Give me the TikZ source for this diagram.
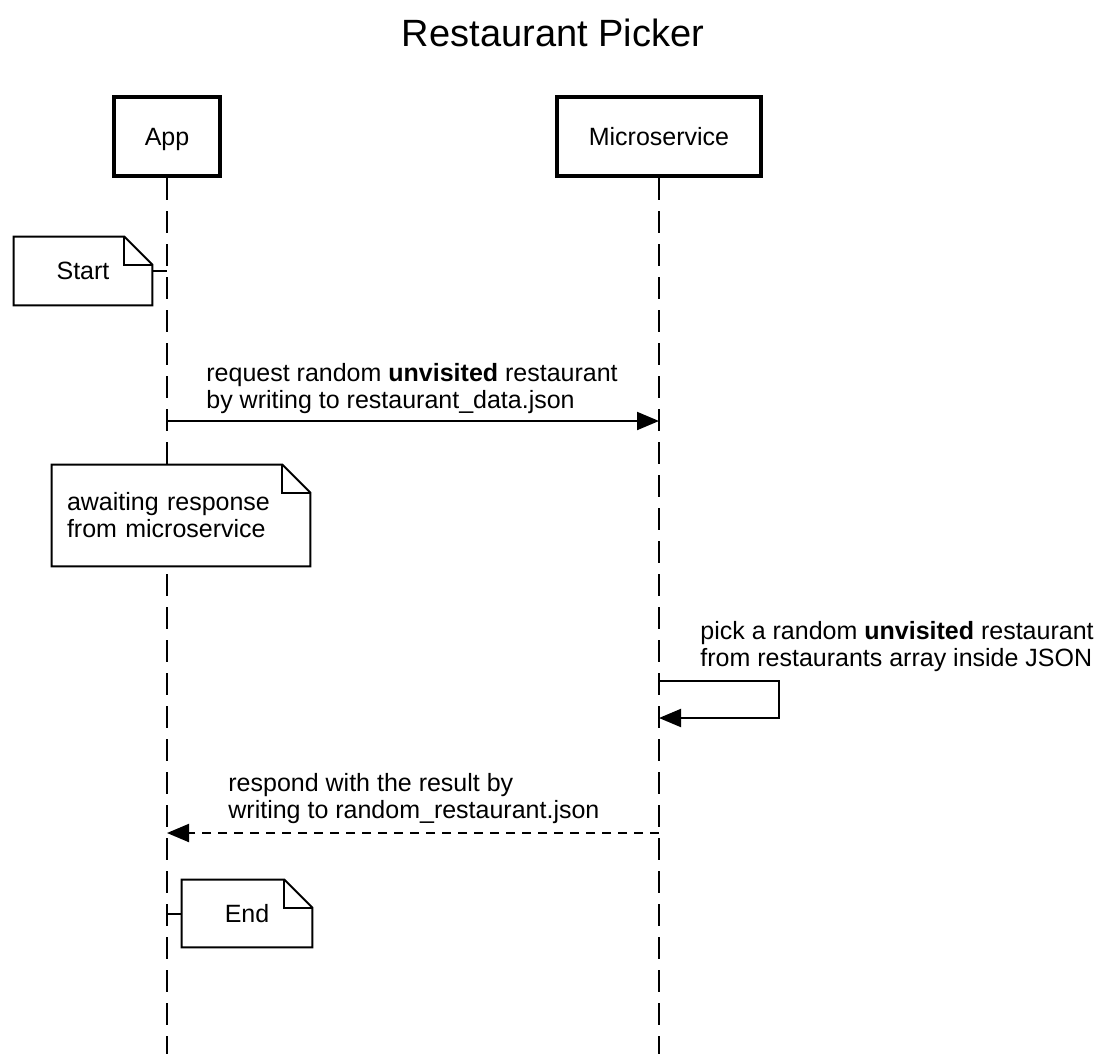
\documentclass[tikz,border=0pt]{standalone}
\usepackage{fontspec}
\setmainfont{Liberation Sans}
\usetikzlibrary{arrows.meta,positioning}

% outline of a note with a folded corner, drawn on an existing node
\newcommand{\foldnote}[1]{%
  \draw[line width=1pt] (#1.south west) -- (#1.north west) -- ([xshift=-14pt]#1.north east)
    -- ([yshift=-14pt]#1.north east) -- (#1.south east) -- cycle;
  \draw[line width=1pt] ([xshift=-14pt]#1.north east) |- ([yshift=-14pt]#1.north east);}

\begin{document}
\begin{tikzpicture}[x=0.5pt, y=-0.5pt, font=\fontsize{12.5}{13.5}\selectfont,
    >={Triangle[length=11pt,width=9pt]}]
  \useasboundingbox (0,0) rectangle (1107,1054);
  \tikzstyle{actor}=[draw, line width=2pt, minimum height=39.5pt, inner sep=0pt, text depth=0pt]
  \tikzstyle{life}=[line width=1pt, dash pattern=on 11pt off 5.5pt]
  \tikzstyle{note}=[fill=white, inner sep=0pt]
  \tikzstyle{msg}=[line width=1pt]
  \tikzstyle{lbl}=[anchor=south west, align=left, inner sep=0pt]

  % title
  \node[font=\fontsize{19}{22}\selectfont] (title) at (553,33) {Restaurant Picker};

  % participants and lifelines
  \node[actor, minimum width=53pt] (app) at (167,136.5) {App};
  \node[actor, minimum width=102pt] (ms) at (659,136.5) {Microservice};
  \coordinate (appEnd) at (167,1054);
  \coordinate (msEnd) at (659,1054);
  \draw[life] (app.south) -- (appEnd);
  \draw[life] (ms.south) -- (msEnd);

  % start
  \node[note, minimum width=69pt, minimum height=34pt] (start) at (83,271) {Start};
  \foldnote{start}
  \draw[msg] (start.east) -- (start.east -| app);

  % request
  \coordinate (reqA) at (167,421);
  \coordinate (reqM) at (659,421);
  \draw[msg, ->] (reqA) -- (reqM);
  \node[lbl] (reqLbl) at (206,414) {request random \textbf{unvisited} restaurant\\by writing to restaurant\_data.json};

  % waiting
  \node[note, text width=114pt, inner xsep=7.5pt, minimum height=50.5pt, align=left] (wait) at (181,515.5)
    {awaiting response\\from microservice};
  \foldnote{wait}

  % self message
  \coordinate (pickA) at (659,681);
  \coordinate (pickB) at (659,718);
  \draw[msg, ->] (pickA) -- ++(120,0) |- (pickB);
  \node[lbl] (pickLbl) at (700,672) {pick a random \textbf{unvisited} restaurant\\from restaurants array inside JSON};

  % response
  \coordinate (respM) at (659,833);
  \coordinate (respA) at (167,833);
  \draw[msg, dash pattern=on 4.5pt off 3.5pt, ->] (respM) -- (respA);
  \node[lbl] (respLbl) at (228,824) {respond with the result by\\writing to random\_restaurant.json};

  % end
  \node[note, minimum width=65pt, minimum height=33.5pt] (fin) at (247,913.5) {End};
  \foldnote{fin}
  \draw[msg] (fin.west -| app) -- (fin.west);
\end{tikzpicture}
\end{document}
